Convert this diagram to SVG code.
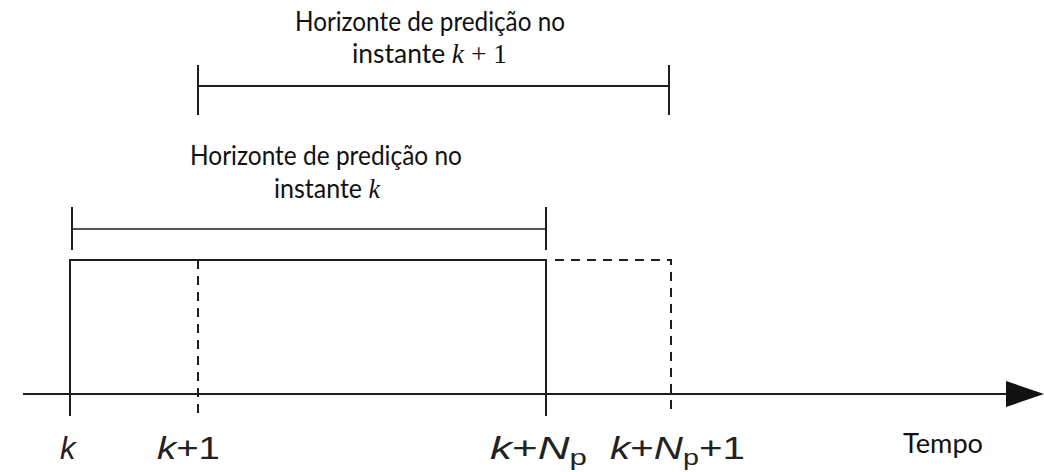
<svg xmlns="http://www.w3.org/2000/svg" width="1044" height="472" viewBox="0 0 1044 472">
<style>
.ln{stroke:#1e1e1e;stroke-width:2;fill:none}
.dl{stroke:#1e1e1e;stroke-width:2;fill:none;stroke-dasharray:9 7}
.cap{font-family:Lato,"Open Sans","Liberation Sans",sans-serif;font-size:26px;fill:#111}
.m{font-family:"Liberation Serif",serif;font-style:italic;font-size:27px}
.mr{font-family:"Liberation Serif",serif;font-size:27px}
.lab{font-family:"Liberation Sans",Arial,sans-serif;font-size:31px;fill:#222}
.it{font-style:italic}
.sub{font-size:22px}
</style>
<defs>
<marker id="arr" markerWidth="40" markerHeight="28" refX="0" refY="13" orient="auto" markerUnits="userSpaceOnUse">
<path d="M0,0 L38,13 L0,26 Z" fill="#111"/>
</marker>
</defs>
<g id="connectors">
<line class="ln" x1="23" y1="394" x2="1006" y2="394" marker-end="url(#arr)"/>
</g>
<g id="horizon-k1">
<line class="ln" x1="198" y1="86" x2="669" y2="86"/>
<line class="ln" x1="198" y1="65" x2="198" y2="115"/>
<line class="ln" x1="669" y1="65" x2="669" y2="115"/>
<text class="cap" x="295" y="31" textLength="270" lengthAdjust="spacingAndGlyphs">Horizonte de predição no</text>
<text class="cap" x="352" y="63" textLength="155" lengthAdjust="spacingAndGlyphs">instante <tspan class="m">k</tspan><tspan class="mr"> + 1</tspan></text>
</g>
<g id="horizon-k">
<line x1="72" y1="229" x2="546" y2="229" stroke="#555" stroke-width="2"/>
<line class="ln" x1="72" y1="207" x2="72" y2="250"/>
<line class="ln" x1="546" y1="207" x2="546" y2="250"/>
<text class="cap" x="190" y="165" textLength="272" lengthAdjust="spacingAndGlyphs">Horizonte de predição no</text>
<text class="cap" x="274" y="198" textLength="106" lengthAdjust="spacingAndGlyphs">instante <tspan class="m">k</tspan></text>
</g>
<g id="window-k">
<polyline class="ln" points="70,416 70,260 546,260 546,416"/>
</g>
<g id="window-k1">
<line class="dl" x1="198" y1="260" x2="198" y2="416"/>
<polyline class="dl" points="555,260 671,260 671,416"/>
</g>
<g id="labels">
<text class="lab" x="60" y="459"><tspan class="it">k</tspan></text>
<text class="lab" x="157" y="459" textLength="63" lengthAdjust="spacingAndGlyphs"><tspan class="it">k</tspan>+1</text>
<text class="lab" x="490" y="459" textLength="97" lengthAdjust="spacingAndGlyphs"><tspan class="it">k</tspan>+<tspan class="it">N</tspan><tspan class="sub" dy="6">p</tspan></text>
<text class="lab" x="610" y="459" textLength="135" lengthAdjust="spacingAndGlyphs"><tspan class="it">k</tspan>+<tspan class="it">N</tspan><tspan class="sub" dy="6">p</tspan><tspan dy="-6">+1</tspan></text>
<text class="cap" x="903" y="453" font-size="24" textLength="80" lengthAdjust="spacingAndGlyphs">Tempo</text>
</g>
</svg>
